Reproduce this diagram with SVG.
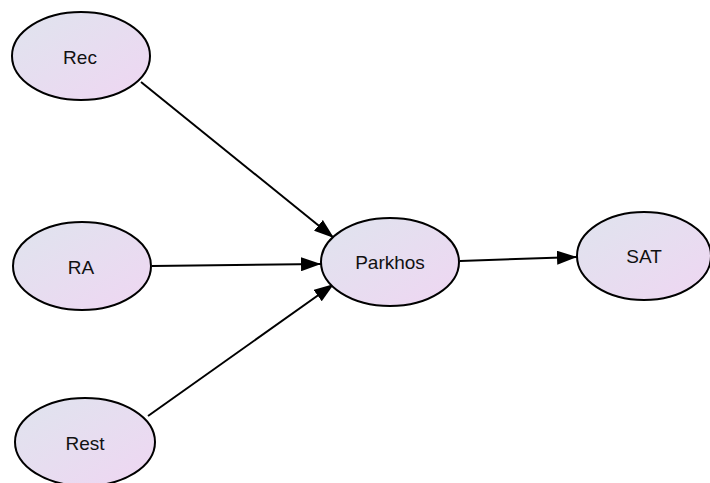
<svg xmlns="http://www.w3.org/2000/svg" width="710" height="483" viewBox="0 0 710 483">
  <defs>
    <linearGradient id="nodeFill" x1="0" y1="0" x2="1" y2="1">
      <stop offset="0" stop-color="#dfe4ee"/>
      <stop offset="1" stop-color="#efd6f2"/>
    </linearGradient>
    <marker id="arrow" viewBox="0 0 20 14" refX="20" refY="7" markerWidth="20" markerHeight="14" markerUnits="userSpaceOnUse" orient="auto">
      <path d="M0,0 L20,7 L0,14 Z" fill="#000"/>
    </marker>
    <style>
      .node ellipse { fill: url(#nodeFill); stroke: #000; stroke-width: 2; }
      .node text { font-family: "Liberation Sans", Arial, sans-serif; font-size: 19px; fill: #111; text-anchor: middle; dominant-baseline: central; }
      .edges line { stroke: #000; stroke-width: 2; marker-end: url(#arrow); }
    </style>
  </defs>
  <rect width="710" height="483" fill="#fff"/>

  <g class="edges" id="connectors">
    <line x1="141" y1="82" x2="334" y2="238"/>
    <line x1="152" y1="266" x2="321" y2="264"/>
    <line x1="148" y1="416" x2="334" y2="284"/>
    <line x1="460" y1="261" x2="577" y2="257"/>
  </g>

  <g class="node" id="rec">
    <ellipse cx="81" cy="56" rx="69" ry="44"/>
    <text x="80" y="57">Rec</text>
  </g>
  <g class="node" id="ra">
    <ellipse cx="82" cy="266" rx="69" ry="44"/>
    <text x="81" y="267">RA</text>
  </g>
  <g class="node" id="rest">
    <ellipse cx="85" cy="442" rx="70" ry="44"/>
    <text x="85" y="443">Rest</text>
  </g>
  <g class="node" id="parkhos">
    <ellipse cx="390" cy="262" rx="69" ry="44"/>
    <text x="390" y="262">Parkhos</text>
  </g>
  <g class="node" id="sat">
    <ellipse cx="644" cy="256" rx="67" ry="44"/>
    <text x="644" y="256">SAT</text>
  </g>
</svg>
